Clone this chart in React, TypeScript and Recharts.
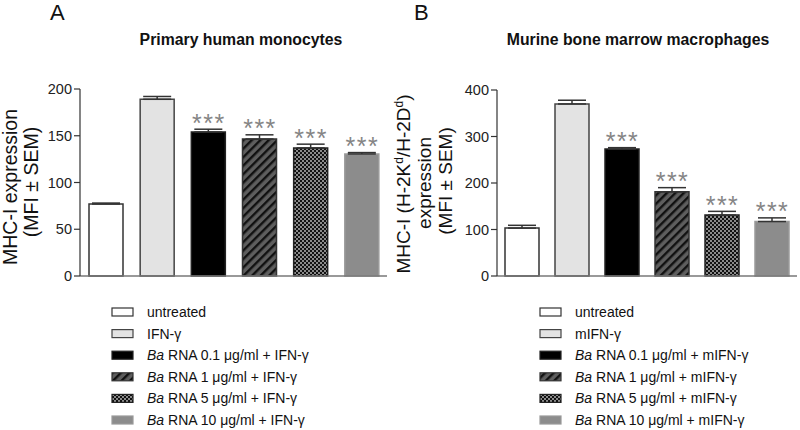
import React from 'react';
import { BarChart, Bar, XAxis, YAxis, Cell, ErrorBar, LabelList } from 'recharts';

// Panel A: primary human monocytes
const treatmentsA = [
  'untreated',
  'IFN-γ',
  'Ba RNA 0.1 μg/ml + IFN-γ',
  'Ba RNA 1 μg/ml + IFN-γ',
  'Ba RNA 5 μg/ml + IFN-γ',
  'Ba RNA 10 μg/ml + IFN-γ',
];
const meanA = [77, 189, 154, 146.5, 137, 130.5];
const semA = [1, 3, 3, 4.5, 4, 1.5];
const sigA = ['', '', '***', '***', '***', '***'];
const ticksA = [0, 50, 100, 150, 200];

// Panel B: murine bone marrow macrophages
const treatmentsB = [
  'untreated',
  'mIFN-γ',
  'Ba RNA 0.1 μg/ml + mIFN-γ',
  'Ba RNA 1 μg/ml + mIFN-γ',
  'Ba RNA 5 μg/ml + mIFN-γ',
  'Ba RNA 10 μg/ml + mIFN-γ',
];
const meanB = [103, 370, 273, 181, 131, 117];
const semB = [6, 8, 3, 9, 8, 8];
const sigB = ['', '', '***', '***', '***', '***'];
const ticksB = [0, 100, 200, 300, 400];

const FILLS = ['#ffffff', '#e3e3e3', '#000000', 'url(#hatch)', 'url(#checker)', '#8c8c8c'];
const STROKES = ['#333', '#444', '#222', '#333', '#222', '#9a9a9a'];
const FONT = '"Liberation Sans", Arial, Helvetica, sans-serif';

const buildData = (names: string[], means: number[], sems: number[], sigs: string[]) =>
  names.map((name, i) => ({ name, mean: means[i], err: [0, sems[i]], sig: sigs[i] }));

const sigLabel = (means: number[], sems: number[], sigs: string[]) => (props: any) => {
  const { x, y, width, height, index } = props;
  const s = sigs[index];
  if (!s) return null;
  const pxPerUnit = Math.abs(height) / means[index];
  const top = y - sems[index] * pxPerUnit;
  return (
    <text
      x={x + width / 2 + 0.5}
      y={top + 2.5}
      textAnchor="middle"
      fontSize={25}
      letterSpacing={1.5}
      fill="#858585"
      fontFamily={FONT}
    >
      {s}
    </text>
  );
};

const Panel = ({ left, data, means, sems, sigs, ticks, yWidth, top, right }: any) => (
  <div style={{ position: 'absolute', left, top: 0 }}>
    <BarChart
      width={400}
      height={300}
      data={data}
      margin={{ top, right, bottom: 20, left: 20 }}
      barSize={34}
    >
      <XAxis dataKey="name" tick={false} tickLine={false} height={4} axisLine={{ stroke: '#777', strokeWidth: 1.5 }} />
      <YAxis
        width={yWidth}
        domain={[ticks[0], ticks[ticks.length - 1]]}
        ticks={ticks}
        interval={0}
        tickSize={6}
        tick={{ fontSize: 14.5, fill: '#222', fontFamily: FONT }}
        axisLine={{ stroke: '#333', strokeWidth: 1.2 }}
        tickLine={{ stroke: '#333', strokeWidth: 1.2 }}
      />
      <Bar dataKey="mean" isAnimationActive={false} strokeWidth={1.5}>
        {data.map((d: any, i: number) => (
          <Cell key={`c-${i}`} fill={FILLS[i]} stroke={STROKES[i]} />
        ))}
        <ErrorBar dataKey="err" width={14} stroke="#333" strokeWidth={1.5} />
        <LabelList dataKey="sig" content={sigLabel(means, sems, sigs)} />
      </Bar>
    </BarChart>
  </div>
);

const LegendLabel = ({ label }: { label: string }) =>
  label.startsWith('Ba ') ? (
    <>
      <tspan fontStyle="italic">Ba</tspan>
      <tspan>{label.slice(2)}</tspan>
    </>
  ) : (
    <tspan>{label}</tspan>
  );

const Legend = ({ names, sx, tx }: { names: string[]; sx: number; tx: number }) => (
  <g fontFamily={FONT} fontSize={14} fill="#111">
    {names.map((n, i) => {
      const cy = 312 + i * 21.6;
      return (
        <g key={n}>
          <rect x={sx} y={cy - 4} width={21} height={8} fill={FILLS[i]} stroke={STROKES[i]} strokeWidth={1.2} />
          <text x={tx} y={cy + 5}>
            <LegendLabel label={n} />
          </text>
        </g>
      );
    })}
  </g>
);

export default function App() {
  const dataA = buildData(treatmentsA, meanA, semA, sigA);
  const dataB = buildData(treatmentsB, meanB, semB, sigB);
  return (
    <div style={{ position: 'absolute', left: 0, top: 0, width: 800, height: 430, background: '#fff', overflow: 'hidden' }}>
      <svg width={0} height={0} style={{ position: 'absolute' }}>
        <defs>
          <pattern id="hatch" patternUnits="userSpaceOnUse" width={6} height={6} patternTransform="rotate(45)">
            <rect width={6} height={6} fill="#5e5e5e" />
            <rect x={0} y={0} width={2.4} height={6} fill="#111" />
          </pattern>
          <pattern id="checker" patternUnits="userSpaceOnUse" width={4} height={4}>
            <rect width={4} height={4} fill="#8a8a8a" />
            <rect x={0} y={0} width={2} height={2} fill="#111" />
            <rect x={2} y={2} width={2} height={2} fill="#111" />
          </pattern>
        </defs>
      </svg>

      <Panel left={0} data={dataA} means={meanA} sems={semA} sigs={sigA} ticks={ticksA} yWidth={60} top={89} right={13} />
      <Panel left={400} data={dataB} means={meanB} sems={semB} sigs={sigB} ticks={ticksB} yWidth={77} top={90} right={3} />

      <svg width={800} height={430} style={{ position: 'absolute', left: 0, top: 0, pointerEvents: 'none' }} fontFamily={FONT} fill="#111">
        <text x={50} y={20} fontSize={22}>A</text>
        <text x={414} y={20} fontSize={22}>B</text>
        <text x={241} y={45} fontSize={15.8} fontWeight="bold" textAnchor="middle">Primary human monocytes</text>
        <text x={638} y={45} fontSize={15.8} fontWeight="bold" textAnchor="middle">Murine bone marrow macrophages</text>

        <g fontSize={19.5} textAnchor="middle">
          <text transform="translate(17,187) rotate(-90)">MHC-I expression</text>
          <text transform="translate(38,182) rotate(-90)">(MFI ± SEM)</text>
        </g>
        <g fontSize={19} textAnchor="middle">
          <text transform="translate(410,184) rotate(-90)">
            MHC-I (H-2K<tspan fontSize={12} baselineShift="super">d</tspan>/H-2D<tspan fontSize={12} baselineShift="super">d</tspan>)
          </text>
          <text transform="translate(431,183) rotate(-90)">expression</text>
          <text transform="translate(452,181) rotate(-90)">(MFI ± SEM)</text>
        </g>

        <Legend names={treatmentsA} sx={112} tx={147} />
        <Legend names={treatmentsB} sx={540} tx={575} />
      </svg>
    </div>
  );
}
